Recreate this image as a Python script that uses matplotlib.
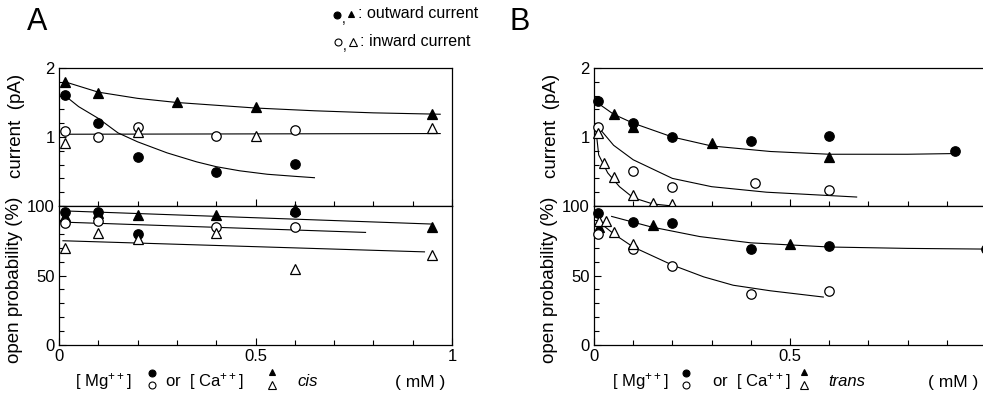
import matplotlib
matplotlib.use("Agg")
import matplotlib.pyplot as plt
from matplotlib.lines import Line2D
from matplotlib.ticker import MultipleLocator, FixedLocator

plt.rcParams['font.family'] = ['Liberation Sans', 'DejaVu Sans']
plt.rcParams['mathtext.default'] = 'regular'

# ---------------- panel A (cis) ----------------
# single channel current (pA)
a_cur_out_mg_x = [0.015, 0.1, 0.2, 0.4, 0.6]
a_cur_out_mg_y = [1.61, 1.2, 0.71, 0.49, 0.61]
a_cur_out_ca_x = [0.015, 0.1, 0.3, 0.5, 0.95]
a_cur_out_ca_y = [1.8, 1.64, 1.51, 1.43, 1.33]
a_cur_in_mg_x = [0.015, 0.1, 0.2, 0.4, 0.6]
a_cur_in_mg_y = [1.09, 1.0, 1.14, 1.01, 1.1]
a_cur_in_ca_x = [0.015, 0.2, 0.5, 0.95]
a_cur_in_ca_y = [0.91, 1.07, 1.01, 1.13]
# fitted curves
a_fit_out_ca_x = [0.015, 0.1, 0.2, 0.3, 0.4, 0.5, 0.65, 0.8, 0.97]
a_fit_out_ca_y = [1.8, 1.65, 1.56, 1.5, 1.46, 1.42, 1.38, 1.35, 1.33]
a_fit_out_mg_x = [0.015, 0.05, 0.1, 0.15, 0.2, 0.275, 0.35, 0.4, 0.46, 0.53, 0.6, 0.65]
a_fit_out_mg_y = [1.6, 1.44, 1.27, 1.06, 0.93, 0.77, 0.64, 0.57, 0.51, 0.46, 0.43, 0.41]
a_fit_in_x = [0.015, 0.97]
a_fit_in_y = [1.04, 1.05]

# open probability (%)
a_po_out_mg_x = [0.015, 0.1, 0.2, 0.6]
a_po_out_mg_y = [96, 96, 80, 96]
a_po_out_ca_x = [0.015, 0.1, 0.2, 0.4, 0.6, 0.95]
a_po_out_ca_y = [93, 95, 93.5, 93.5, 98, 85]
a_po_in_mg_x = [0.015, 0.1, 0.4, 0.6]
a_po_in_mg_y = [88, 89, 85, 85]
a_po_in_ca_x = [0.015, 0.1, 0.2, 0.4, 0.6, 0.95]
a_po_in_ca_y = [70, 80.5, 76, 80.5, 55, 65]
a_fit_po_out_x = [0.01, 0.95]
a_fit_po_out_y = [96.5, 87]
a_fit_po_in_mg_x = [0.0, 0.78]
a_fit_po_in_mg_y = [88.5, 81]
a_fit_po_in_ca_x = [0.01, 0.93]
a_fit_po_in_ca_y = [75, 67]

# ---------------- panel B (trans) ----------------
b_cur_out_mg_x = [0.01, 0.1, 0.2, 0.4, 0.6, 0.92]
b_cur_out_mg_y = [1.52, 1.2, 1.0, 0.94, 1.01, 0.8]
b_cur_out_ca_x = [0.05, 0.1, 0.3, 0.6]
b_cur_out_ca_y = [1.33, 1.15, 0.91, 0.71]
b_cur_in_mg_x = [0.01, 0.1, 0.2, 0.41, 0.6]
b_cur_in_mg_y = [1.15, 0.51, 0.28, 0.33, 0.23]
b_cur_in_ca_x = [0.01, 0.025, 0.05, 0.1, 0.15, 0.2]
b_cur_in_ca_y = [1.06, 0.62, 0.42, 0.16, 0.04, 0.03]
b_fit_out_x = [0.01, 0.05, 0.1, 0.2, 0.3, 0.45, 0.6, 0.8, 0.92]
b_fit_out_y = [1.49, 1.33, 1.2, 1.0, 0.87, 0.79, 0.75, 0.75, 0.76]
b_fit_in_mg_x = [0.01, 0.05, 0.1, 0.2, 0.3, 0.44, 0.67]
b_fit_in_mg_y = [1.15, 0.88, 0.67, 0.4, 0.28, 0.2, 0.13]
b_fit_in_ca_x = [0.005, 0.012, 0.035, 0.065, 0.1, 0.15, 0.2]
b_fit_in_ca_y = [1.1, 0.74, 0.48, 0.28, 0.12, 0.03, 0.0]

b_po_out_mg_x = [0.01, 0.1, 0.2, 0.4, 0.6, 1.0]
b_po_out_mg_y = [95, 88.5, 88, 69, 71, 69]
b_po_out_ca_x = [0.012, 0.15, 0.5]
b_po_out_ca_y = [85, 86, 73]
b_po_in_mg_x = [0.01, 0.1, 0.2, 0.4, 0.6]
b_po_in_mg_y = [80, 69, 57, 37, 39]
b_po_in_ca_x = [0.012, 0.03, 0.05, 0.1]
b_po_in_ca_y = [89, 89, 81, 73]
b_fit_po_out_x = [0.045, 0.145, 0.27, 0.4, 0.6, 0.8, 1.0]
b_fit_po_out_y = [92.5, 85, 78, 73.5, 70.5, 69.5, 69]
b_fit_po_in_x = [0.015, 0.05, 0.1, 0.2, 0.28, 0.355, 0.45, 0.585]
b_fit_po_in_y = [88, 80, 70.5, 57.5, 49, 43, 39, 34.5]

W, H = 983, 395
fig = plt.figure(figsize=(W / 100, H / 100), dpi=100)


def rect(l, t, r, b):
    return [l / W, 1 - b / H, (r - l) / W, (b - t) / H]


def fpos(x, y):
    return x / W, 1 - y / H


MS = 6.8
LW = 0.8


def pts(ax, x, y, marker, filled):
    ax.plot(x, y, linestyle='none', marker=marker, ms=MS if marker == 'o' else MS + 0.8,
            mfc='black' if filled else 'white', mec='black', mew=0.9, zorder=3,
            clip_on=False)


def fit(ax, x, y):
    ax.plot(x, y, color='black', lw=LW, zorder=2)


def style(ax, top):
    ax.set_xlim(0, 1)
    for s in ax.spines.values():
        s.set_linewidth(0.9)
    ax.xaxis.set_major_locator(FixedLocator([0, 0.5, 1]))
    ax.xaxis.set_minor_locator(MultipleLocator(0.1))
    ax.tick_params(which='both', direction='in', top=False, right=False,
                   labelsize=12, pad=3, width=0.8)
    ax.tick_params(which='major', length=5)
    ax.tick_params(which='minor', length=3.5)
    if top:
        ax.set_ylim(0, 2)
        ax.yaxis.set_major_locator(FixedLocator([1, 2]))
        ax.yaxis.set_minor_locator(MultipleLocator(0.2))
        ax.set_yticklabels(['1', '2'])
        ax.tick_params(axis='x', labelbottom=False)
    else:
        ax.set_ylim(0, 100)
        ax.yaxis.set_major_locator(FixedLocator([0, 50, 100]))
        ax.yaxis.set_minor_locator(MultipleLocator(10))
        ax.set_yticklabels(['0', '50', '100'])


# ---- A ----
axA1 = fig.add_axes(rect(59, 68, 452, 206))
axA2 = fig.add_axes(rect(59, 206, 452, 345))
style(axA1, True)
style(axA2, False)
axA2.set_xticklabels(['0', '0.5', '1'])

fit(axA1, a_fit_out_ca_x, a_fit_out_ca_y)
fit(axA1, a_fit_out_mg_x, a_fit_out_mg_y)
fit(axA1, a_fit_in_x, a_fit_in_y)
pts(axA1, a_cur_out_mg_x, a_cur_out_mg_y, 'o', True)
pts(axA1, a_cur_out_ca_x, a_cur_out_ca_y, '^', True)
pts(axA1, a_cur_in_mg_x, a_cur_in_mg_y, 'o', False)
pts(axA1, a_cur_in_ca_x, a_cur_in_ca_y, '^', False)

fit(axA2, a_fit_po_out_x, a_fit_po_out_y)
fit(axA2, a_fit_po_in_mg_x, a_fit_po_in_mg_y)
fit(axA2, a_fit_po_in_ca_x, a_fit_po_in_ca_y)
pts(axA2, a_po_out_mg_x, a_po_out_mg_y, 'o', True)
pts(axA2, a_po_out_ca_x, a_po_out_ca_y, '^', True)
pts(axA2, a_po_in_mg_x, a_po_in_mg_y, 'o', False)
pts(axA2, a_po_in_ca_x, a_po_in_ca_y, '^', False)

# ---- B ----
axB1 = fig.add_axes(rect(594, 68, 986, 206))
axB2 = fig.add_axes(rect(594, 206, 986, 345))
style(axB1, True)
style(axB2, False)
axB2.set_xticklabels(['0', '0.5', ''])

fit(axB1, b_fit_out_x, b_fit_out_y)
fit(axB1, b_fit_in_mg_x, b_fit_in_mg_y)
fit(axB1, b_fit_in_ca_x, b_fit_in_ca_y)
pts(axB1, b_cur_out_mg_x, b_cur_out_mg_y, 'o', True)
pts(axB1, b_cur_out_ca_x, b_cur_out_ca_y, '^', True)
pts(axB1, b_cur_in_mg_x, b_cur_in_mg_y, 'o', False)
pts(axB1, b_cur_in_ca_x, b_cur_in_ca_y, '^', False)

fit(axB2, b_fit_po_out_x, b_fit_po_out_y)
fit(axB2, b_fit_po_in_x, b_fit_po_in_y)
pts(axB2, b_po_out_mg_x, b_po_out_mg_y, 'o', True)
pts(axB2, b_po_out_ca_x, b_po_out_ca_y, '^', True)
pts(axB2, b_po_in_mg_x, b_po_in_mg_y, 'o', False)
pts(axB2, b_po_in_ca_x, b_po_in_ca_y, '^', False)


# ---- labels, keys ----
def key(x, y, marker, filled, ms=5.5):
    fig.add_artist(Line2D([x / W], [1 - y / H], transform=fig.transFigure,
                          linestyle='none', marker=marker, ms=ms,
                          mfc='black' if filled else 'white', mec='black', mew=0.8))


def ftext(x, y, s, **kw):
    fig.text(*fpos(x, y), s, **kw)


ftext(27, 22, 'A', fontsize=22, ha='left', va='center')
ftext(510, 22, 'B', fontsize=22, ha='left', va='center')
for dx in (0, 535):
    ftext(17 + dx, 126, 'current  (pA)', fontsize=13.5, rotation=90, ha='center', va='center')
    ftext(15 + dx, 280, 'open probability (%)', fontsize=13.5, rotation=90, ha='center', va='center')

# x-axis captions
for xs, cond in [((75, 152, 165, 272, 297, 395), 'cis'), ((612, 686, 712, 804, 828, 928), 'trans')]:
    ftext(xs[0], 382, '[ Mg$^{++}$]', fontsize=12, ha='left', va='center')
    key(xs[1], 373, 'o', True, 5)
    key(xs[1], 385, 'o', False, 5)
    ftext(xs[2], 382, 'or  [ Ca$^{++}$]', fontsize=12, ha='left', va='center')
    key(xs[3], 372, '^', True, 5)
    key(xs[3], 385, '^', False, 5.5)
    ftext(xs[4], 382, cond, fontsize=12, style='italic', ha='left', va='center')
    ftext(xs[5], 382, '( mM )', fontsize=12.5, ha='left', va='center')

# legend at the top
key(337, 15, 'o', True, 5)
ftext(344, 19, ',', fontsize=10, ha='center', va='center')
key(351, 14, '^', True, 5)
ftext(358, 14, ': outward current', fontsize=11.5, ha='left', va='center')
key(338, 42, 'o', False, 5)
ftext(345, 46, ',', fontsize=10, ha='center', va='center')
key(353, 42, '^', False, 5.5)
ftext(360, 42, ': inward current', fontsize=11.5, ha='left', va='center')

fig.savefig('out.png', dpi=100)
